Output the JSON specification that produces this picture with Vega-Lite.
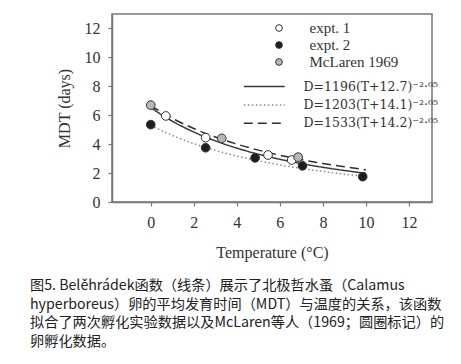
{
  "$schema": "https://vega.github.io/schema/vega-lite/v6.json",
  "width": 320,
  "height": 188,
  "autosize": {"type": "none"},
  "padding": {"left": 112, "top": 14, "right": 29, "bottom": 162},
  "background": "white",
  "config": {
    "view": {"stroke": "#777", "strokeWidth": 1.5},
    "font": "Liberation Serif",
    "axis": {
      "grid": false,
      "domainColor": "#777",
      "domainWidth": 1.5,
      "tickColor": "#777",
      "tickWidth": 1.2,
      "tickSize": 4,
      "labelFont": "Liberation Serif",
      "labelFontSize": 16,
      "labelColor": "#333",
      "titleFont": "Liberation Serif",
      "titleFontSize": 16,
      "titleFontWeight": "normal",
      "titleColor": "#333"
    },
    "legend": {
      "labelFont": "Liberation Serif",
      "labelFontSize": 15,
      "labelColor": "#333",
      "labelLimit": 300,
      "padding": 0,
      "title": null
    }
  },
  "title": {
    "text": [
      "图5. Belěhrádek函数（线条）展示了北极哲水蚤（Calamus",
      "hyperboreus）卵的平均发育时间（MDT）与温度的关系，该函数",
      "拟合了两次孵化实验数据以及McLaren等人（1969；圆圈标记）的",
      "卵孵化数据。"
    ],
    "orient": "bottom",
    "anchor": "start",
    "frame": "group",
    "dx": -82,
    "offset": 19,
    "font": "Noto Sans CJK SC",
    "fontSize": 14.2,
    "fontWeight": "normal",
    "lineHeight": 18.7,
    "color": "#222"
  },
  "datasets": {
    "pts": [
      {"T": 0.7, "MDT": 5.95, "series": "expt. 1"},
      {"T": 2.55, "MDT": 4.45, "series": "expt. 1"},
      {"T": 5.45, "MDT": 3.25, "series": "expt. 1"},
      {"T": 6.55, "MDT": 2.9, "series": "expt. 1"},
      {"T": 0, "MDT": 5.35, "series": "expt. 2"},
      {"T": 2.55, "MDT": 3.75, "series": "expt. 2"},
      {"T": 4.85, "MDT": 3.05, "series": "expt. 2"},
      {"T": 7.05, "MDT": 2.5, "series": "expt. 2"},
      {"T": 9.85, "MDT": 1.75, "series": "expt. 2"},
      {"T": 0, "MDT": 6.7, "series": "McLaren 1969"},
      {"T": 3.3, "MDT": 4.4, "series": "McLaren 1969"},
      {"T": 6.85, "MDT": 3.1, "series": "McLaren 1969"}
    ],
    "fits": [
      {"T": 0, "MDT": 6.52, "fit": "D=1196(T+12.7)⁻²·⁰⁵"},
      {"T": 1, "MDT": 5.589, "fit": "D=1196(T+12.7)⁻²·⁰⁵"},
      {"T": 2, "MDT": 4.838, "fit": "D=1196(T+12.7)⁻²·⁰⁵"},
      {"T": 3, "MDT": 4.229, "fit": "D=1196(T+12.7)⁻²·⁰⁵"},
      {"T": 4, "MDT": 3.725, "fit": "D=1196(T+12.7)⁻²·⁰⁵"},
      {"T": 5, "MDT": 3.307, "fit": "D=1196(T+12.7)⁻²·⁰⁵"},
      {"T": 6, "MDT": 2.954, "fit": "D=1196(T+12.7)⁻²·⁰⁵"},
      {"T": 7, "MDT": 2.655, "fit": "D=1196(T+12.7)⁻²·⁰⁵"},
      {"T": 8, "MDT": 2.399, "fit": "D=1196(T+12.7)⁻²·⁰⁵"},
      {"T": 9, "MDT": 2.178, "fit": "D=1196(T+12.7)⁻²·⁰⁵"},
      {"T": 10, "MDT": 1.986, "fit": "D=1196(T+12.7)⁻²·⁰⁵"},
      {"T": 0, "MDT": 5.3, "fit": "D=1203(T+14.1)⁻²·⁰⁵"},
      {"T": 1, "MDT": 4.607, "fit": "D=1203(T+14.1)⁻²·⁰⁵"},
      {"T": 2, "MDT": 4.039, "fit": "D=1203(T+14.1)⁻²·⁰⁵"},
      {"T": 3, "MDT": 3.57, "fit": "D=1203(T+14.1)⁻²·⁰⁵"},
      {"T": 4, "MDT": 3.178, "fit": "D=1203(T+14.1)⁻²·⁰⁵"},
      {"T": 5, "MDT": 2.846, "fit": "D=1203(T+14.1)⁻²·⁰⁵"},
      {"T": 6, "MDT": 2.563, "fit": "D=1203(T+14.1)⁻²·⁰⁵"},
      {"T": 7, "MDT": 2.32, "fit": "D=1203(T+14.1)⁻²·⁰⁵"},
      {"T": 8, "MDT": 2.11, "fit": "D=1203(T+14.1)⁻²·⁰⁵"},
      {"T": 9, "MDT": 1.927, "fit": "D=1203(T+14.1)⁻²·⁰⁵"},
      {"T": 10, "MDT": 1.767, "fit": "D=1203(T+14.1)⁻²·⁰⁵"},
      {"T": 0, "MDT": 6.655, "fit": "D=1533(T+14.2)⁻²·⁰⁵"},
      {"T": 1, "MDT": 5.79, "fit": "D=1533(T+14.2)⁻²·⁰⁵"},
      {"T": 2, "MDT": 5.082, "fit": "D=1533(T+14.2)⁻²·⁰⁵"},
      {"T": 3, "MDT": 4.495, "fit": "D=1533(T+14.2)⁻²·⁰⁵"},
      {"T": 4, "MDT": 4.004, "fit": "D=1533(T+14.2)⁻²·⁰⁵"},
      {"T": 5, "MDT": 3.588, "fit": "D=1533(T+14.2)⁻²·⁰⁵"},
      {"T": 6, "MDT": 3.233, "fit": "D=1533(T+14.2)⁻²·⁰⁵"},
      {"T": 7, "MDT": 2.928, "fit": "D=1533(T+14.2)⁻²·⁰⁵"},
      {"T": 8, "MDT": 2.664, "fit": "D=1533(T+14.2)⁻²·⁰⁵"},
      {"T": 9, "MDT": 2.434, "fit": "D=1533(T+14.2)⁻²·⁰⁵"},
      {"T": 10, "MDT": 2.232, "fit": "D=1533(T+14.2)⁻²·⁰⁵"}
    ]
  },
  "encoding": {
    "x": {
      "field": "T",
      "type": "quantitative",
      "scale": {"domain": [-1.8, 13.07], "nice": false, "zero": false},
      "axis": {"values": [0, 2, 4, 6, 8, 10, 12], "title": "Temperature (°C)", "labelPadding": 8, "titlePadding": 14}
    },
    "y": {
      "field": "MDT",
      "type": "quantitative",
      "scale": {"domain": [0, 13], "nice": false},
      "axis": {"values": [0, 2, 4, 6, 8, 10, 12], "title": "MDT (days)", "labelPadding": 8, "titlePadding": 12}
    }
  },
  "layer": [
    {
      "data": {"name": "fits"},
      "mark": {"type": "line", "interpolate": "monotone", "strokeWidth": 1.5},
      "encoding": {
        "stroke": {
          "field": "fit",
          "type": "nominal",
          "scale": {"domain": ["D=1196(T+12.7)⁻²·⁰⁵", "D=1203(T+14.1)⁻²·⁰⁵", "D=1533(T+14.2)⁻²·⁰⁵"], "range": ["#3a3a3a", "#8a8a8a", "#2e2e2e"]},
          "legend": {"orient": "none", "legendX": 143.3, "legendY": 63.5, "symbolType": "M-2.5,0H2.5", "symbolSize": 269, "symbolStrokeWidth": 1.5, "symbolFillColor": "transparent", "labelOffset": 30.3, "rowPadding": 2.4, "labelFont": "DejaVu Serif", "labelFontSize": 12.5}
        },
        "strokeDash": {
          "field": "fit",
          "type": "nominal",
          "scale": {"domain": ["D=1196(T+12.7)⁻²·⁰⁵", "D=1203(T+14.1)⁻²·⁰⁵", "D=1533(T+14.2)⁻²·⁰⁵"], "range": [[1, 0], [1.5, 2.5], [9, 5]]}
        }
      }
    },
    {
      "data": {"name": "pts"},
      "mark": {"type": "point", "shape": "circle", "filled": true, "size": 75, "stroke": "#333", "strokeWidth": 1, "opacity": 1},
      "encoding": {
        "fill": {
          "field": "series",
          "type": "nominal",
          "scale": {"domain": ["expt. 1", "expt. 2", "McLaren 1969"], "range": ["#ffffff", "#1e1e1e", "#b8b8b8"]},
          "legend": {"orient": "none", "legendX": 159.5, "legendY": 6.5, "symbolType": "circle", "symbolSize": 45, "symbolStrokeColor": "#333", "symbolStrokeWidth": 1, "labelOffset": 23, "rowPadding": 1}
        }
      }
    }
  ]
}
